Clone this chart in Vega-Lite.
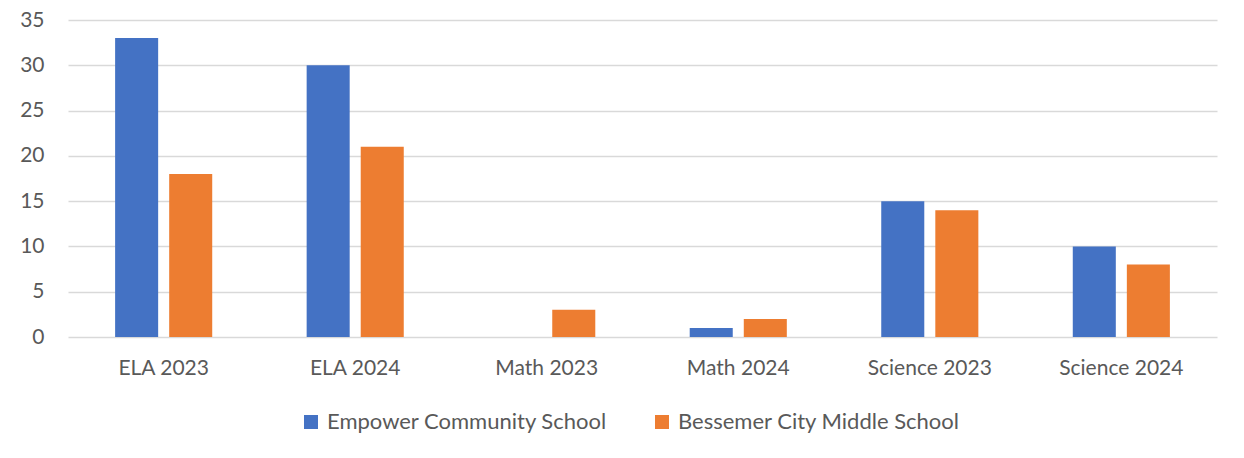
{
  "$schema": "https://vega.github.io/schema/vega-lite/v6.json",
  "width": 1149,
  "height": 317,
  "autosize": {"type": "none"},
  "padding": {"left": 68, "top": 20, "right": 27, "bottom": 121},
  "background": "white",
  "data": {
    "values": [
      {"cat": "ELA 2023", "school": "Empower Community School", "v": 33},
      {"cat": "ELA 2023", "school": "Bessemer City Middle School", "v": 18},
      {"cat": "ELA 2024", "school": "Empower Community School", "v": 30},
      {"cat": "ELA 2024", "school": "Bessemer City Middle School", "v": 21},
      {"cat": "Math 2023", "school": "Empower Community School", "v": 0},
      {"cat": "Math 2023", "school": "Bessemer City Middle School", "v": 3},
      {"cat": "Math 2024", "school": "Empower Community School", "v": 1},
      {"cat": "Math 2024", "school": "Bessemer City Middle School", "v": 2},
      {"cat": "Science 2023", "school": "Empower Community School", "v": 15},
      {"cat": "Science 2023", "school": "Bessemer City Middle School", "v": 14},
      {"cat": "Science 2024", "school": "Empower Community School", "v": 10},
      {"cat": "Science 2024", "school": "Bessemer City Middle School", "v": 8}
    ]
  },
  "mark": {"type": "bar"},
  "encoding": {
    "x": {
      "field": "cat", "type": "nominal", "sort": null, "title": null,
      "scale": {"paddingInner": 0.493, "paddingOuter": 0.246},
      "axis": {"labelAngle": 0, "ticks": false, "domain": false, "labelPadding": 20, "labelFontSize": 21, "labelColor": "#595959", "labelFont": "Lato"}
    },
    "xOffset": {
      "field": "school", "type": "nominal", "sort": ["Empower Community School", "Bessemer City Middle School"],
      "scale": {"paddingInner": 0.204, "paddingOuter": 0}
    },
    "y": {
      "field": "v", "type": "quantitative", "title": null,
      "scale": {"domain": [0, 35], "nice": false},
      "axis": {"values": [0, 5, 10, 15, 20, 25, 30, 35], "ticks": false, "domain": false, "labelPadding": 24, "labelFontSize": 21, "labelColor": "#595959", "labelFont": "Lato", "gridColor": "#D9D9D9", "gridWidth": 1.3}
    },
    "color": {
      "field": "school", "type": "nominal", "title": null,
      "sort": ["Empower Community School", "Bessemer City Middle School"],
      "scale": {"domain": ["Empower Community School", "Bessemer City Middle School"], "range": ["#4472C4", "#ED7D31"]},
      "legend": {"orient": "none", "legendX": 232, "legendY": 391, "direction": "horizontal", "symbolType": "square", "symbolSize": 196, "symbolStrokeWidth": 0, "labelFontSize": 22, "labelColor": "#595959", "labelFont": "Lato", "labelOffset": 5, "columnPadding": 43, "labelLimit": 400}
    }
  },
  "config": {"view": {"stroke": null}}
}
